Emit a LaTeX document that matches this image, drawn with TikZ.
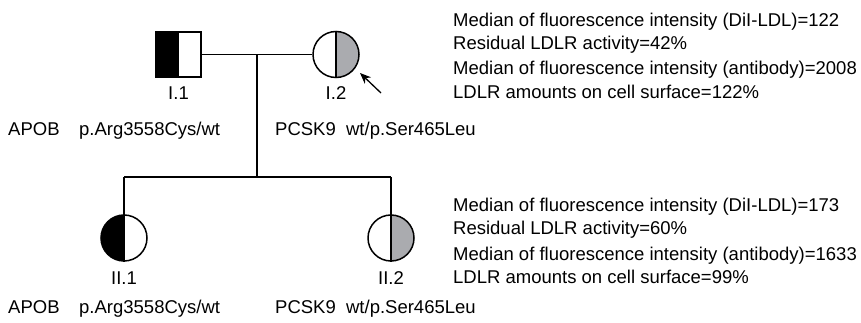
\documentclass[tikz,border=0pt]{standalone}
\usepackage{fontspec}
\setmainfont{Liberation Sans}
\usetikzlibrary{arrows.meta}
\definecolor{halfgray}{RGB}{170,171,175}
\begin{document}
\begin{tikzpicture}[x=1pt,y=-1pt,
  txt/.style={inner sep=0pt,anchor=base,font=\fontsize{18.5}{21}\selectfont},
  ltxt/.style={txt,anchor=base west},
  line/.style={line width=1.3pt},
  sym/.style={line width=1.5pt}]
\useasboundingbox (0,0) rectangle (861,323);
% Generation I
\fill[black] (156,32) rectangle (178.5,77);
\draw[sym] (156,32) rectangle (201,77);
\draw[sym] (178.5,32) -- (178.5,77);
\node[minimum size=45pt,inner sep=0pt] (i1) at (178.5,54.5) {};
\begin{scope}
\clip (336,54.5) circle (23);
\fill[halfgray] (336,20) rectangle (370,90);
\end{scope}
\node[circle,draw,sym,minimum size=46pt,inner sep=0pt] (i2) at (336,54.5) {};
\draw[sym] (i2.north) -- (i2.south);
\coordinate (m) at (257,54.5);
\draw[line] (i1.east) -- (i2.west);
% sibship
\coordinate (s) at (257,177);
\coordinate (sl) at (124,177);
\coordinate (sr) at (391,177);
\draw[line] (m) -- (s);
\draw[line] (sl) -- (sr);
% Generation II
\begin{scope}
\clip (124,238) circle (23);
\fill[black] (90,200) rectangle (124,270);
\end{scope}
\begin{scope}
\clip (391,238) circle (23);
\fill[halfgray] (391,200) rectangle (430,270);
\end{scope}
\node[circle,draw,sym,minimum size=46pt,inner sep=0pt] (ii1) at (124,238) {};
\node[circle,draw,sym,minimum size=46pt,inner sep=0pt] (ii2) at (391,238) {};
\draw[sym] (ii1.north) -- (ii1.south);
\draw[sym] (ii2.north) -- (ii2.south);
\draw[line] (sl) -- (ii1.north);
\draw[line] (sr) -- (ii2.north);
% arrow
\coordinate (a0) at (381,93);
\coordinate (a1) at (360,73);
\draw[line,-{Stealth[length=11pt,width=9pt]}] (a0) -- (a1);
% labels
\node[txt] (l1) at (178.5,99.6) {I.1};
\node[txt] (l2) at (336,99.6) {I.2};
\node[txt] (l3) at (124,284.6) {II.1};
\node[txt] (l4) at (391,284.6) {II.2};
\node[ltxt] (g1) at (8,135.6) {APOB};
\node[ltxt] (g2) at (79,135.6) {p.Arg3558Cys/wt};
\node[ltxt] (g3) at (275,135.6) {PCSK9\ \ wt/p.Ser465Leu};
\node[ltxt] (g4) at (8,313.6) {APOB};
\node[ltxt] (g5) at (79,313.6) {p.Arg3558Cys/wt};
\node[ltxt] (g6) at (275,313.6) {PCSK9\ \ wt/p.Ser465Leu};
% data
\node[ltxt] (d1) at (453,26.6) {Median of fluorescence intensity (DiI-LDL)=122};
\node[ltxt] (d2) at (453,49.6) {Residual LDLR activity=42\%};
\node[ltxt] (d3) at (453,74.6) {Median of fluorescence intensity (antibody)=2008};
\node[ltxt] (d4) at (453,98.6) {LDLR amounts on cell surface=122\%};
\node[ltxt] (e1) at (453,211.6) {Median of fluorescence intensity (DiI-LDL)=173};
\node[ltxt] (e2) at (453,234.6) {Residual LDLR activity=60\%};
\node[ltxt] (e3) at (453,260.6) {Median of fluorescence intensity (antibody)=1633};
\node[ltxt] (e4) at (453,283.6) {LDLR amounts on cell surface=99\%};
\end{tikzpicture}
\end{document}
